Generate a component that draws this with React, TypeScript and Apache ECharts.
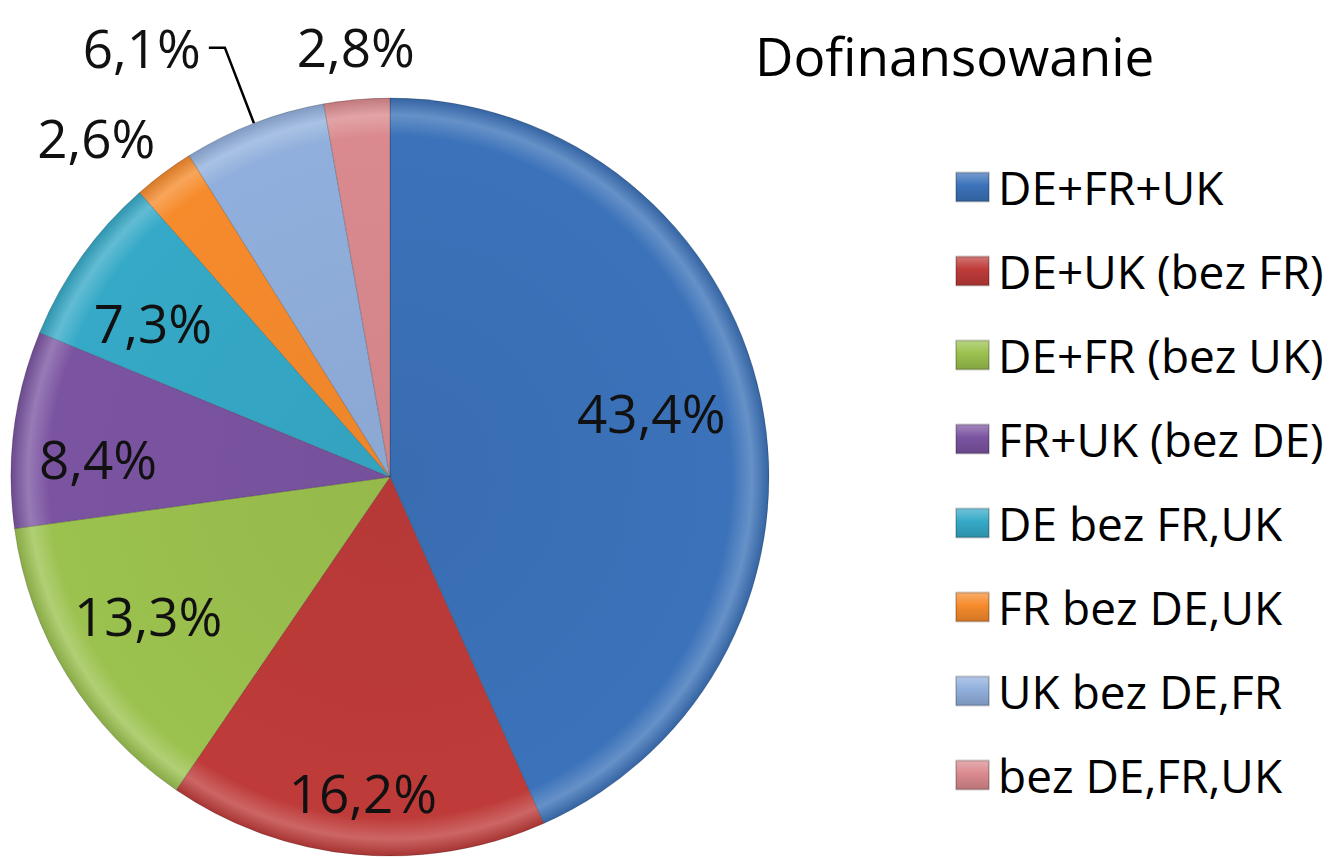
import React, { useEffect, useRef } from "react";
import * as echarts from "echarts";

const titleText = "Dofinansowanie";
const categories = [
  "DE+FR+UK",
  "DE+UK (bez FR)",
  "DE+FR (bez UK)",
  "FR+UK (bez DE)",
  "DE bez FR,UK",
  "FR bez DE,UK",
  "UK bez DE,FR",
  "bez DE,FR,UK",
];
const shares = [43.4, 16.2, 13.3, 8.4, 7.3, 2.6, 6.1, 2.8];
const colors = ["#3B72B9", "#BE3B39", "#9BC14E", "#7B54A1", "#35A9C7", "#F68B2C", "#91AFDC", "#DA8A8E"];
// label placement: distance as a fraction of the pie radius (null = outside with leader line)
const labelRadius: (number | null)[] = [0.71, 0.835, 0.735, 0.772, 0.746, 1.184, null, 1.14];
// label placement: angular shift from the slice's mid angle, in degrees (clockwise)
const labelShift = [-1.9, -0.3, 2.0, -3.6, -2.5, -4.2, 0, 0.5];

const CX = 390;
const CY = 477;
const R = 379;
const FONT = "'Open Sans', 'Noto Sans', sans-serif";

function mix(hex: string, target: number, t: number) {
  const n = parseInt(hex.slice(1), 16);
  const c = [(n >> 16) & 255, (n >> 8) & 255, n & 255].map((v) => Math.round(v + (target - v) * t));
  return `rgb(${c[0]},${c[1]},${c[2]})`;
}

export default function App() {
  const ref = useRef<HTMLDivElement>(null);
  useEffect(() => {
    if (!ref.current) return;
    const chart = echarts.init(ref.current, null, { renderer: "svg" });
    const data = categories.map((name, i) => {
      const base = colors[i];
      const item: any = {
        name,
        value: shares[i],
        itemStyle: {
          color: new echarts.graphic.RadialGradient(
            CX,
            CY,
            R,
            [
              { offset: 0, color: mix(base, 0, 0.04) },
              { offset: 0.9, color: base },
              { offset: 0.955, color: mix(base, 255, 0.22) },
              { offset: 1, color: mix(base, 0, 0.12) },
            ],
            true
          ),
        },
      };
      if (labelRadius[i] == null) {
        item.label = { position: "outside", distanceToLabelLine: 8, padding: [0, 0, 18, 0] };
        item.labelLine = {
          show: true,
          length: 81,
          length2: 16,
          lineStyle: { color: "#000", width: 2.5 },
        };
      }
      return item;
    });
    chart.setOption({
      animation: false,
      backgroundColor: "#fff",
      title: {
        text: titleText,
        left: 755,
        top: 29,
        padding: 0,
        textStyle: { fontFamily: FONT, fontSize: 53, lineHeight: 53, fontWeight: "normal", color: "#000" },
      },
      legend: {
        orient: "vertical",
        left: 950,
        top: 159,
        itemWidth: 33,
        itemHeight: 29,
        itemGap: 38,
        icon: "rect",
        selectedMode: false,
        textStyle: { fontFamily: FONT, fontSize: 46, lineHeight: 46, color: "#000", padding: [0, 0, 0, 4] },
        data: categories.map((name, i) => ({
          name,
          itemStyle: {
            color: new echarts.graphic.LinearGradient(0, 0, 0, 1, [
              { offset: 0, color: mix(colors[i], 255, 0.3) },
              { offset: 0.45, color: colors[i] },
              { offset: 1, color: mix(colors[i], 0, 0.15) },
            ]),
          },
        })),
      },
      series: [
        {
          type: "pie",
          center: [CX, CY],
          radius: [0, R],
          startAngle: 90,
          clockwise: true,
          avoidLabelOverlap: false,
          itemStyle: { borderColor: "rgba(0,0,0,0.18)", borderWidth: 1 },
          label: {
            show: true,
            position: "inside",
            fontFamily: FONT,
            fontSize: 53,
            color: "#111",
            formatter: (p: any) => p.value.toFixed(1).replace(".", ",") + "%",
          },
          labelLine: { show: false },
          labelLayout: (p: any) => {
            const k = labelRadius[p.dataIndex];
            if (k == null) return {};
            const lx = p.labelRect.x + p.labelRect.width / 2;
            const ly = p.labelRect.y + p.labelRect.height / 2;
            const theta = Math.atan2(lx - CX, -(ly - CY)) + (labelShift[p.dataIndex] * Math.PI) / 180;
            return {
              x: CX + Math.sin(theta) * k * R,
              y: CY - Math.cos(theta) * k * R,
              align: "center",
              verticalAlign: "middle",
            };
          },
          emphasis: { disabled: true },
          data,
        },
      ],
    });
    return () => chart.dispose();
  }, []);
  return <div ref={ref} style={{ position: "absolute", left: 0, top: 0, width: 1333, height: 858 }} />;
}
